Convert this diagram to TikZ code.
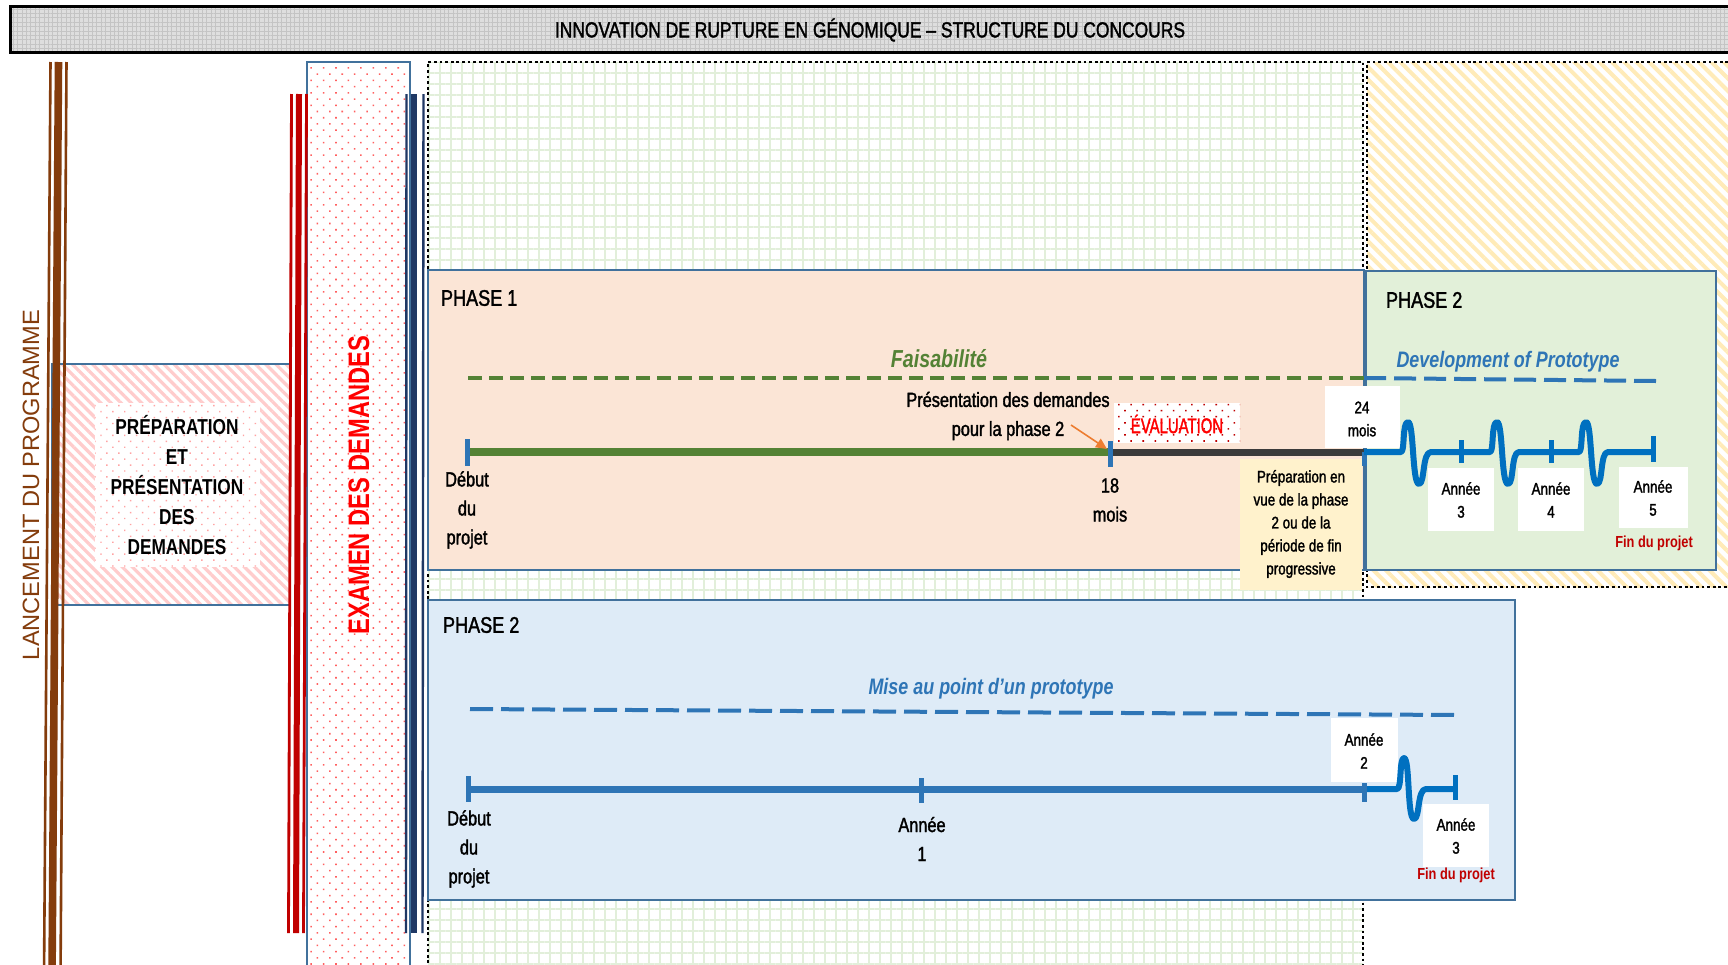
\documentclass[tikz,border=0pt]{standalone}
\usepackage{fontspec}
\setmainfont[FakeStretch=0.8, UprightFeatures={FakeBold=1.6}]{Liberation Sans}
\newfontfamily\widefont{Liberation Sans}
\usetikzlibrary{patterns.meta,arrows.meta}
\definecolor{brownL}{HTML}{843C0C}
\definecolor{darkredL}{HTML}{C00000}
\definecolor{navyL}{HTML}{1F3864}
\definecolor{steelL}{HTML}{41719C}
\definecolor{peachL}{HTML}{FBE5D6}
\definecolor{lgreenL}{HTML}{E2F0D9}
\definecolor{lblueL}{HTML}{DEEBF7}
\definecolor{lyellowL}{HTML}{FFF2CC}
\definecolor{blueTL}{HTML}{2E75B6}
\definecolor{blueWL}{HTML}{0070C0}
\definecolor{greenL}{HTML}{548235}
\definecolor{grayL}{HTML}{3B3B3B}
\definecolor{gridL}{HTML}{E2EFDA}
\definecolor{stripeL}{HTML}{FFEBB8}
\definecolor{pinkL}{HTML}{FFCCCC}
\definecolor{dotL}{HTML}{FF6060}
\definecolor{orangeL}{HTML}{ED7D31}
\definecolor{titleL}{HTML}{DEDEDE}
\definecolor{titleD}{HTML}{C4C4C4}
\tikzset{
  dotborder/.style={line width=1.4pt, dash pattern=on 1.4pt off 1.4pt},
  boxborder/.style={draw=steelL, line width=1.2pt},
  phasefont/.style={font=\fontsize{11.3}{13}\selectfont, anchor=west},
  midfont/.style={font=\fontsize{10.2}{14.5}\selectfont, align=center},
  smallfont/.style={font=\fontsize{8.4}{11.5}\selectfont, align=center},
  finfont/.style={font=\bfseries\fontsize{8}{10}\selectfont, text=darkredL},
  tickmark/.style={draw=blueTL, line width=2.5pt},
  wavetick/.style={draw=blueWL, line width=2.5pt},
}
\begin{document}
\begin{tikzpicture}[x=0.5pt,y=-0.5pt, every node/.style={inner sep=0pt, outer sep=0pt}]
\useasboundingbox (0,0) rectangle (1728,964);
\fill[white] (0,0) rectangle (1728,964);

% ---------- title bar
\fill[titleL] (10,6) rectangle (1745,52);
\fill[pattern={Hatch[distance=2.2pt,line width=0.5pt]}, pattern color=titleD] (10,6) rectangle (1745,52);
\draw[line width=1.5pt] (10,6) rectangle (1745,52);
\node[font=\fontsize{10.9}{13}\selectfont] (title) at (870,30) {INNOVATION DE RUPTURE EN GÉNOMIQUE – STRUCTURE DU CONCOURS};

% ---------- green grid region
\fill[white] (428,62) rectangle (1363,980);
\fill[pattern={Hatch[distance=5.5pt,line width=0.7pt]}, pattern color=gridL] (428,62) rectangle (1363,980);
\draw[dotborder] (428,980) -- (428,62) -- (1363,62) -- (1363,980);

% ---------- yellow stripe region
\fill[white] (1367,62) rectangle (1745,587);
\fill[pattern={Lines[angle=-45,distance=4.4pt,line width=2pt]}, pattern color=stripeL] (1367,62) rectangle (1745,587);
\draw[dotborder] (1745,62) -- (1367,62) -- (1367,587) -- (1745,587);

% ---------- preparation box
\fill[white] (52,364) rectangle (290,605);
\fill[pattern={Lines[angle=-45,distance=3.6pt,line width=1.6pt]}, pattern color=pinkL] (52,364) rectangle (290,605);
\fill[white] (95,403) rectangle (260,567);
\fill[pattern={Dots[distance=4.2pt,radius=0.5pt,angle=45]}, pattern color=pinkL!80!red] (95,403) rectangle (260,567);
\draw[boxborder] (52,364) rectangle (290,605);
\node[font=\bfseries\fontsize{10.8}{15}\selectfont, align=center] (prep) at (177,485)
  {PRÉPARATION\\ET\\PRÉSENTATION\\DES\\DEMANDES};

% ---------- examen box
\fill[white] (307,62) rectangle (410,980);
\fill[pattern={Dots[distance=4.4pt,radius=0.55pt,angle=45]}, pattern color=dotL] (307,62) rectangle (410,980);
\draw[boxborder] (307,62) rectangle (410,980);
\node[rotate=90, text=red, font=\bfseries\fontsize{14.8}{16}\selectfont] (exam) at (359,485) {EXAMEN DES DEMANDES};

% ---------- vertical rules
\draw[darkredL, line width=1.4pt] (291.5,94) -- (288.5,933);
\draw[darkredL, line width=3pt] (299,94) -- (296,933);
\draw[darkredL, line width=1.4pt] (306.5,94) -- (303.5,933);
\draw[navyL, line width=1.2pt] (406.5,94) -- (406,933);
\draw[navyL, line width=3.2pt] (414,94) -- (414,933);
\draw[navyL, line width=1.2pt] (423.5,94) -- (422.5,933);
\draw[brownL, line width=1.3pt] (50.5,62) -- (44,980);
\draw[brownL, line width=3.8pt] (58.5,62) -- (52,980);
\draw[brownL, line width=1.3pt] (66.5,62) -- (60.5,980);
\node[rotate=90, text=brownL, font=\widefont\fontsize{11.8}{14}\selectfont] (lanc) at (31,485) {LANCEMENT DU PROGRAMME};

% ---------- phase boxes
\fill[peachL] (428,270) rectangle (1364,570);
\draw[boxborder] (428,270) rectangle (1364,570);
\fill[lgreenL] (1366,271) rectangle (1716,570);
\draw[boxborder] (1366,271) rectangle (1716,570);
\fill[lblueL] (428,600) rectangle (1515,900);
\draw[boxborder] (428,600) rectangle (1515,900);

\node[phasefont] (ph1) at (441,298) {PHASE 1};
\node[phasefont] (ph2a) at (1386,300) {PHASE 2};
\node[phasefont] (ph2b) at (443,625) {PHASE 2};

% ---------- phase 1 content
\node[font=\bfseries\itshape\fontsize{12.3}{14}\selectfont, text=greenL] (fais) at (939,359) {Faisabilité};
\coordinate (gd0) at (468,378);
\coordinate (gd1) at (1364,378);
\coordinate (bd1) at (1656,381);
\draw[greenL, line width=2pt, dash pattern=on 7pt off 3.5pt] (gd0) -- (gd1);
\draw[blueTL, line width=2pt, dash pattern=on 11pt off 4pt] (gd1) -- (bd1);
\node[font=\bfseries\itshape\fontsize{11.2}{13}\selectfont, text=blueTL] (devp) at (1508,362) {Development of Prototype};

% yellow preparation box
\fill[lyellowL] (1240,459) rectangle (1362,590);
\node[smallfont] (prepb) at (1301,524) {Préparation en\\vue de la phase\\2 ou de la\\période de fin\\progressive};

% timeline phase 1
\coordinate (a0) at (467,452);
\coordinate (a18) at (1110,452);
\coordinate (a24) at (1364,452);
\draw[greenL, line width=4pt] (a0) -- (a18);
\draw[grayL, line width=3.5pt] (a18) -- (a24);
\draw[tickmark] (467,439) -- (467,466);
\draw[tickmark] (1110,441) -- (1110,467);
\draw[tickmark] (1364,452) -- (1364,466);

\node[midfont] (deb1) at (467,510) {Début\\du\\projet};
\node[midfont] (m18) at (1110,500) {18\\mois};
\node[midfont] (pres) at (1008,416) {Présentation des demandes\\pour la phase 2};
\coordinate (arrS) at (1071,425);
\draw[orangeL, line width=0.8pt, -{Triangle[length=5.5pt,width=5pt]}] (arrS) -- (1107,449);

% evaluation
\fill[white] (1114,403) rectangle (1240,443);
\fill[pattern={Dots[distance=4.3pt,radius=0.55pt,angle=45]}, pattern color=darkredL] (1114,403) rectangle (1240,443);
\node[font=\fontsize{10.6}{12}\selectfont, text=red, xscale=0.88] (eval) at (1177,424) {ÉVALUATION};

% 24 mois box
\fill[white] (1325,386) rectangle (1400,448);
\node[smallfont] (m24) at (1362,419) {24\\mois};

% annee boxes phase 2 upper
\fill[white] (1428,468) rectangle (1494,531);
\fill[white] (1518,468) rectangle (1584,531);
\fill[white] (1619,467) rectangle (1688,528);
\node[smallfont] (y3a) at (1461,500) {Année\\3};
\node[smallfont] (y4a) at (1551,500) {Année\\4};
\node[smallfont] (y5a) at (1653,498) {Année\\5};
\node[finfont] (fin1) at (1654,543) {Fin du projet};

% wavy timeline phase 2 upper
\coordinate (e5) at (1653,452);
\draw[blueWL, line width=3pt, line join=round]
  (a24) -- (1401,452)
  .. controls (1405,452) and (1402,422) .. (1408,422)
  .. controls (1414,422) and (1412,484) .. (1419,484)
  .. controls (1425,484) and (1422,452) .. (1431,452)
  -- (1490,452)
  .. controls (1494,452) and (1491,422) .. (1497,422)
  .. controls (1503,422) and (1501,484) .. (1508,484)
  .. controls (1514,484) and (1511,452) .. (1519,452)
  -- (1579,452)
  .. controls (1583,452) and (1580,422) .. (1586,422)
  .. controls (1592,422) and (1590,484) .. (1597,484)
  .. controls (1603,484) and (1600,452) .. (1608,452)
  -- (e5);
\draw[wavetick] (1461,440) -- (1461,463);
\draw[wavetick] (1551,440) -- (1551,463);
\draw[wavetick] (1653,436) -- (1653,462);

% ---------- phase 2 lower content
\node[font=\bfseries\itshape\fontsize{11.2}{13}\selectfont, text=blueTL] (mise) at (991,689) {Mise au point d’un prototype};
\coordinate (ld0) at (470,709);
\coordinate (ld1) at (1456,715);
\draw[blueTL, line width=2pt, dash pattern=on 11.5pt off 4pt] (ld0) -- (ld1);

\fill[white] (1331,718) rectangle (1398,782);
\node[smallfont] (y2b) at (1364,751) {Année\\2};
\fill[white] (1423,804) rectangle (1489,867);
\node[smallfont] (y3b) at (1456,836) {Année\\3};
\node[finfont] (fin2) at (1456,875) {Fin du projet};

\coordinate (b0) at (468,789);
\coordinate (b1) at (921,789);
\coordinate (b2) at (1364,789);
\coordinate (b3) at (1455,789);
\draw[blueTL, line width=3.5pt] (b0) -- (b1) -- (b2);
\draw[blueWL, line width=3pt, line join=round]
  (b2) -- (1397,789)
  .. controls (1402,789) and (1399,758) .. (1404,758)
  .. controls (1410,758) and (1407,819) .. (1414,819)
  .. controls (1420,819) and (1417,789) .. (1426,789)
  -- (b3);
\draw[tickmark] (468,776) -- (468,802);
\draw[tickmark] (921,778) -- (921,803);
\draw[tickmark] (1364,783) -- (1364,802);
\draw[wavetick] (1455,775) -- (1455,800);

\node[midfont] (deb2) at (469,849) {Début\\du\\projet};
\node[midfont] (y1b) at (922,839) {Année\\1};
\end{tikzpicture}
\end{document}
